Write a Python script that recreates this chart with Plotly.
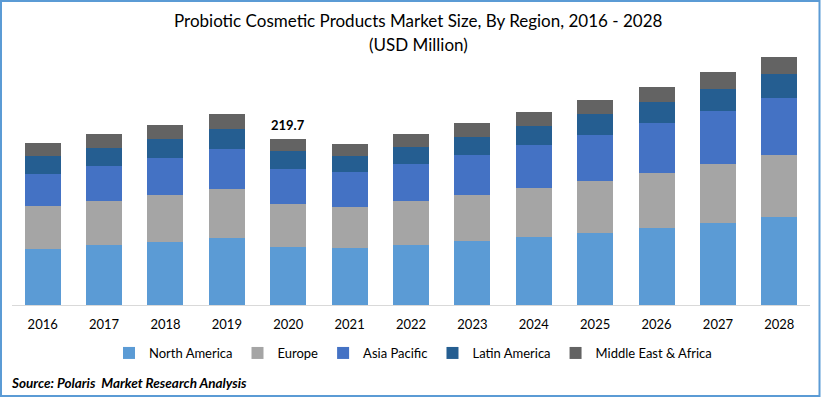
import plotly.graph_objects as go

years = ["2016", "2017", "2018", "2019", "2020", "2021", "2022",
         "2023", "2024", "2025", "2026", "2027", "2028"]
north_america = [74.1, 79.4, 83.4, 88.7, 76.8, 75.4, 79.4, 84.7, 90.0, 95.3, 101.9, 108.5, 116.5]
europe = [56.9, 58.2, 62.2, 64.9, 56.9, 54.3, 58.2, 60.9, 64.9, 68.8, 72.8, 78.1, 82.1]
asia_pacific = [42.4, 46.3, 49.0, 52.9, 46.3, 46.3, 49.0, 52.9, 56.9, 60.9, 66.2, 70.1, 75.4]
latin_america = [23.8, 23.8, 25.1, 26.5, 23.8, 21.2, 22.5, 23.8, 25.1, 27.8, 27.8, 29.1, 31.8]
mea = [17.2, 18.5, 18.5, 19.9, 15.9, 15.9, 17.2, 18.5, 18.5, 18.5, 19.9, 22.5, 22.5]
label_year = "2020"
label_text = "219.7"

series = [
    ("North America", north_america, "#5B9BD5"),
    ("Europe", europe, "#A5A5A5"),
    ("Asia Pacific", asia_pacific, "#4472C4"),
    ("Latin America", latin_america, "#255E91"),
    ("Middle East & Africa", mea, "#636363"),
]

FONT = "Lato, 'Open Sans', sans-serif"

fig = go.Figure()
for name, vals, color in series:
    fig.add_trace(go.Bar(x=years, y=vals, name=name, marker_color=color,
                         marker_line_width=0))

idx = years.index(label_year)
total = sum(s[1][idx] for s in series)

W, H = 823, 398
ml, mr, mt, mb = 12, 13, 50, 93
pw, ph = W - ml - mr, H - mt - mb
ymax = ph * 219.7 / 166.0

def px_x(x):
    return (x - ml) / pw

def px_y(y):
    return (H - mb - y) / ph

# data label above the 2020 stack (category axis -> use category index)
fig.add_annotation(x=idx, y=total, text="<b>" + label_text + "</b>",
                   showarrow=False, yanchor="bottom", yshift=4,
                   font=dict(family=FONT, size=13, color="#000000"))

fig.add_annotation(xref="paper", yref="paper", x=px_x(418), y=px_y(21),
                   text="Probiotic Cosmetic Products Market Size, By Region, 2016 - 2028",
                   showarrow=False, xanchor="center", yanchor="middle",
                   font=dict(family=FONT, size=17, color="#000000"))
fig.add_annotation(xref="paper", yref="paper", x=px_x(418), y=px_y(44),
                   text="(USD Million)", showarrow=False,
                   xanchor="center", yanchor="middle",
                   font=dict(family=FONT, size=17, color="#000000"))
fig.add_annotation(xref="paper", yref="paper", x=px_x(9), y=px_y(383),
                   text="<b><i>Source: Polaris  Market Research Analysis</i></b>",
                   showarrow=False, xanchor="left", yanchor="middle",
                   font=dict(family=FONT, size=13.5, color="#000000"))

fig.add_shape(type="rect", xref="paper", yref="paper",
              x0=px_x(1), x1=px_x(819.5), y0=px_y(396), y1=px_y(1),
              line=dict(color="#5B9BD5", width=2), fillcolor="rgba(0,0,0,0)",
              layer="above")

fig.update_layout(
    width=W, height=H,
    margin=dict(l=ml, r=mr, t=mt, b=mb),
    barmode="stack", bargap=0.414,
    paper_bgcolor="white", plot_bgcolor="white",
    font=dict(family=FONT, size=13, color="#000000"),
    showlegend=True,
    legend=dict(orientation="h", x=px_x(413), xanchor="center",
                y=px_y(353), yanchor="middle",
                font=dict(family=FONT, size=13, color="#000000"),
                itemwidth=30, traceorder="normal"),
    xaxis=dict(type="category", showline=True, linecolor="#D9D9D9", linewidth=1,
               ticks="", showgrid=False, tickfont=dict(size=13),
               ticklabelstandoff=7),
    yaxis=dict(visible=False, range=[0, ymax], showgrid=False),
)

fig.write_html("out.html",
               config={"displayModeBar": False},
               post_script="document.body.style.margin='0';document.body.style.overflow='hidden';")
